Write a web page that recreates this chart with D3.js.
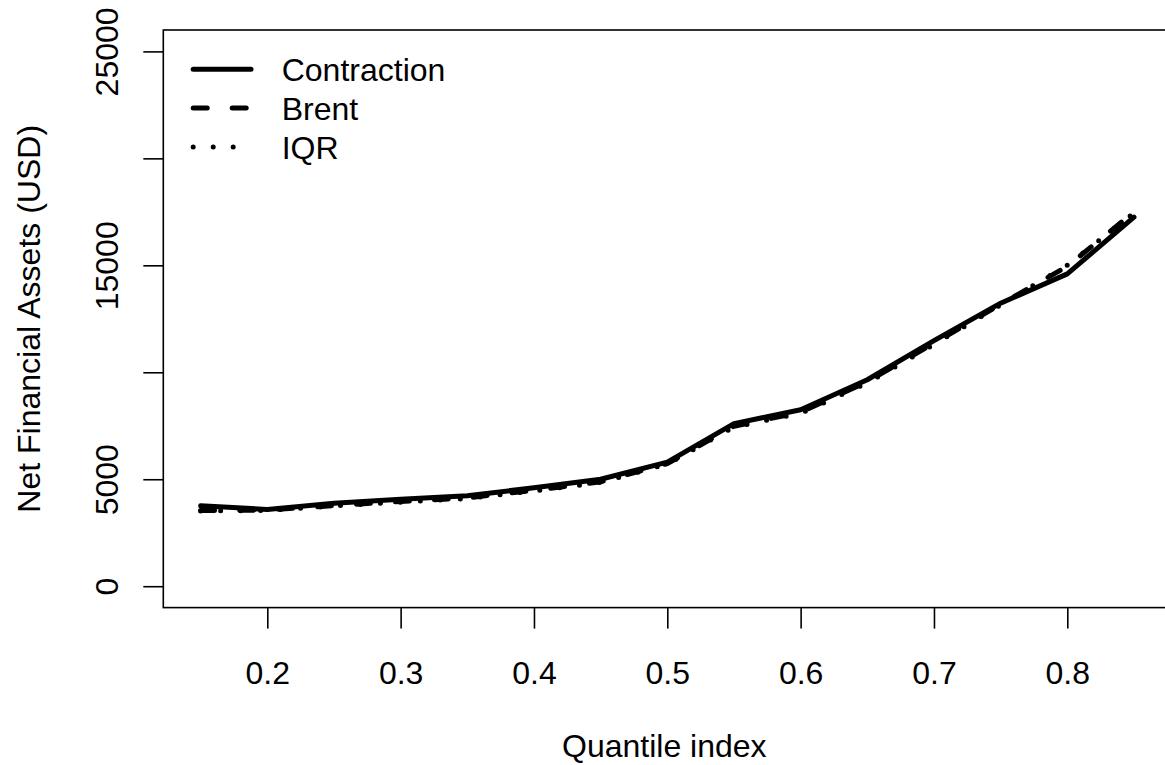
<!DOCTYPE html>
<html>
<head>
<meta charset="utf-8">
<script src="https://cdn.jsdelivr.net/npm/d3@7"></script>
<style>
  body { margin: 0; background: #fff; }
  text { font-family: "Liberation Sans", Arial, sans-serif; }
</style>
</head>
<body>
<div id="chart"></div>
<script>
// data
var quantiles = [0.15, 0.20, 0.25, 0.30, 0.35, 0.40, 0.45, 0.50, 0.55, 0.60, 0.65, 0.70, 0.75, 0.80, 0.85];
var contraction = [3760, 3590, 3880, 4060, 4230, 4600, 5000, 5800, 7600, 8250, 9650, 11480, 13230, 14600, 17250];
var brent = [3540, 3560, 3770, 3960, 4130, 4480, 4880, 5730, 7480, 8130, 9560, 11360, 13180, 14950, 17500];
var iqr = [3520, 3540, 3750, 3930, 4100, 4450, 4850, 5710, 7440, 8080, 9500, 11300, 13150, 15000, 17450];
var seriesNames = ["Contraction", "Brent", "IQR"];
var xTicks = [0.2, 0.3, 0.4, 0.5, 0.6, 0.7, 0.8];
var yTicks = [0, 5000, 10000, 15000, 20000, 25000];
var yTickLabels = ["0", "5000", "", "15000", "", "25000"];

var svgWidth = 1165;
var svgHeight = 765;
var fontSize = "32px";

// plot region (R style, box runs off the right edge)
var plotLeft = 163.3, plotRight = 1171.3, plotTop = 30, plotBottom = 607.6;

var svg = d3.select("#chart")
  .append("svg")
  .attr("width", svgWidth)
  .attr("height", svgHeight);

var xScale = d3.scaleLinear()
  .domain([0.122, 0.878])
  .range([plotLeft, plotRight]);

var yScale = d3.scaleLinear()
  .domain([-1000, 26000])
  .range([plotBottom, plotTop]);

// line styles
var styles = {
  "Contraction": { dash: null, cap: "round" },
  "Brent": { dash: "14,25", cap: "round" },
  "IQR": { dash: "0,20", cap: "round" }
};
var seriesData = [contraction, brent, iqr];

var line = d3.line()
  .x(function(d, i) { return xScale(quantiles[i]); })
  .y(function(d) { return yScale(d); });

seriesData.forEach(function(vals, k) {
  var st = styles[seriesNames[k]];
  svg.append("path")
    .datum(vals)
    .attr("d", line)
    .attr("fill", "none")
    .attr("stroke", "#000")
    .attr("stroke-width", 5)
    .attr("stroke-linecap", st.cap)
    .attr("stroke-linejoin", "round")
    .attr("stroke-dasharray", st.dash);
});

// box
svg.append("rect")
  .attr("x", plotLeft)
  .attr("y", plotTop)
  .attr("width", plotRight - plotLeft)
  .attr("height", plotBottom - plotTop)
  .attr("fill", "none")
  .attr("stroke", "#000")
  .attr("stroke-width", 1.6);

// x axis
var xAxis = svg.append("g")
  .attr("transform", "translate(0," + plotBottom + ")")
  .call(d3.axisBottom(xScale).tickValues(xTicks).tickSize(21).tickSizeOuter(0).tickFormat(d3.format(".1f")));
xAxis.select(".domain").remove();
xAxis.selectAll(".tick line").attr("stroke", "#000").attr("stroke-width", 1.6);
xAxis.selectAll(".tick text")
  .attr("y", 0)
  .attr("dy", 0)
  .attr("transform", "translate(0,76.5)")
  .attr("font-size", fontSize)
  .attr("fill", "#000")
  .attr("font-family", "Liberation Sans, Arial, sans-serif");

// y axis
var yAxis = svg.append("g")
  .attr("transform", "translate(" + plotLeft + ",0)")
  .call(d3.axisLeft(yScale).tickValues(yTicks).tickSize(20).tickSizeOuter(0)
    .tickFormat(function(d, i) { return yTickLabels[i]; }));
yAxis.select(".domain").remove();
yAxis.selectAll(".tick line").attr("stroke", "#000").attr("stroke-width", 1.6);
yAxis.selectAll(".tick text")
  .attr("x", 0)
  .attr("dy", 0)
  .attr("text-anchor", "middle")
  .attr("transform", "translate(-45,0) rotate(-90)")
  .attr("font-size", fontSize)
  .attr("fill", "#000")
  .attr("font-family", "Liberation Sans, Arial, sans-serif");

// axis titles
svg.append("text")
  .attr("x", (plotLeft + plotRight) / 2 - 3)
  .attr("y", 757)
  .attr("text-anchor", "middle")
  .attr("font-size", fontSize)
  .text("Quantile index");

svg.append("text")
  .attr("transform", "translate(40," + ((plotTop + plotBottom) / 2) + ") rotate(-90)")
  .attr("text-anchor", "middle")
  .attr("font-size", fontSize)
  .text("Net Financial Assets (USD)");

// legend
var legendY = [69.3, 108, 147];
var legend = svg.append("g");
seriesNames.forEach(function(name, k) {
  var st = styles[name];
  legend.append("line")
    .attr("x1", 193.2)
    .attr("x2", 251)
    .attr("y1", legendY[k])
    .attr("y2", legendY[k])
    .attr("stroke", "#000")
    .attr("stroke-width", 5)
    .attr("stroke-linecap", st.cap)
    .attr("stroke-dasharray", st.dash);
  legend.append("text")
    .attr("x", 281.7)
    .attr("y", legendY[k] + 11.5)
    .attr("font-size", fontSize)
    .text(name);
});
</script>
</body>
</html>
